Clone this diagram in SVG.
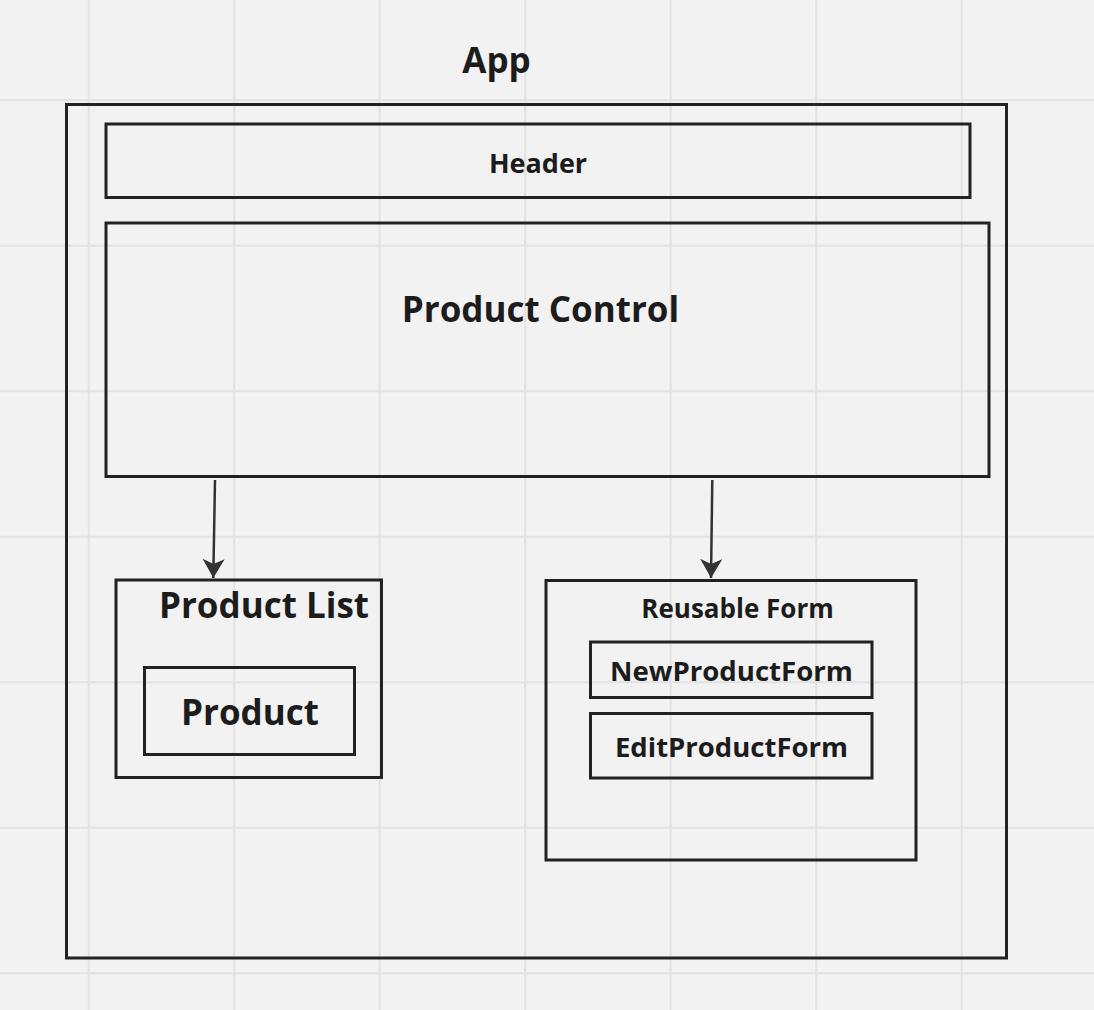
<svg xmlns="http://www.w3.org/2000/svg" width="1094" height="1010" viewBox="0 0 1094 1010">
  <defs>
    <style>
      .grid { stroke: #e2e2e2; stroke-width: 2; }
      .box { fill: none; stroke: #222222; stroke-width: 3; }
      .lbl { font-family: "Open Sans", "Noto Sans", "DejaVu Sans", sans-serif; font-weight: bold; fill: #1c1c1c; text-anchor: middle; }
      .conn { stroke: #333333; stroke-width: 2.5; fill: none; }
    </style>
    <marker id="arrow" viewBox="0 0 20 24" refX="19" refY="12" markerWidth="20" markerHeight="24" markerUnits="userSpaceOnUse" orient="auto">
      <path d="M0,1 L19,12 L0,23 L5,12 Z" fill="#333333"/>
    </marker>
  </defs>
  <rect x="0" y="0" width="1094" height="1010" fill="#f2f2f2"/>
  <g id="grid">
    <line class="grid" x1="88.7" y1="0" x2="88.7" y2="1010"/>
    <line class="grid" x1="234.2" y1="0" x2="234.2" y2="1010"/>
    <line class="grid" x1="379.7" y1="0" x2="379.7" y2="1010"/>
    <line class="grid" x1="525.2" y1="0" x2="525.2" y2="1010"/>
    <line class="grid" x1="670.7" y1="0" x2="670.7" y2="1010"/>
    <line class="grid" x1="816.2" y1="0" x2="816.2" y2="1010"/>
    <line class="grid" x1="961.7" y1="0" x2="961.7" y2="1010"/>
    <line class="grid" x1="0" y1="100.2" x2="1094" y2="100.2"/>
    <line class="grid" x1="0" y1="245.7" x2="1094" y2="245.7"/>
    <line class="grid" x1="0" y1="391.2" x2="1094" y2="391.2"/>
    <line class="grid" x1="0" y1="536.7" x2="1094" y2="536.7"/>
    <line class="grid" x1="0" y1="682.2" x2="1094" y2="682.2"/>
    <line class="grid" x1="0" y1="827.7" x2="1094" y2="827.7"/>
    <line class="grid" x1="0" y1="973.2" x2="1094" y2="973.2"/>
  </g>
  <g id="app">
    <text class="lbl" x="496.5" y="73" font-size="35">App</text>
    <rect class="box" x="66.5" y="104.5" width="940" height="853.5" stroke-width="2.6"/>
  </g>
  <g id="header">
    <rect class="box" x="106" y="124" width="864" height="73.5"/>
    <text class="lbl" x="538" y="172.5" font-size="27">Header</text>
  </g>
  <g id="product-control">
    <rect class="box" x="106" y="223" width="883" height="253.5"/>
    <text class="lbl" x="540.5" y="321.5" font-size="35">Product Control</text>
  </g>
  <g id="product-list">
    <rect class="box" x="116" y="580" width="265.5" height="197.5"/>
    <text class="lbl" x="264" y="618" font-size="35">Product List</text>
  </g>
  <g id="product">
    <rect class="box" x="144.5" y="667.5" width="210" height="87"/>
    <text class="lbl" x="250" y="725" font-size="35">Product</text>
  </g>
  <g id="reusable-form">
    <rect class="box" x="546" y="580.5" width="370" height="279.5"/>
    <text class="lbl" x="737.5" y="618" font-size="26">Reusable Form</text>
  </g>
  <g id="new-product-form">
    <rect class="box" x="590.5" y="642" width="281.5" height="55.5"/>
    <text class="lbl" x="731.5" y="681" font-size="27.6">NewProductForm</text>
  </g>
  <g id="edit-product-form">
    <rect class="box" x="590.5" y="713.5" width="281.5" height="64.5"/>
    <text class="lbl" x="731.5" y="756.5" font-size="27.5">EditProductForm</text>
  </g>
  <g id="connectors">
    <line class="conn" x1="215" y1="480" x2="213.3" y2="578" marker-end="url(#arrow)"/>
    <line class="conn" x1="712.3" y1="480" x2="711" y2="578" marker-end="url(#arrow)"/>
  </g>
</svg>
